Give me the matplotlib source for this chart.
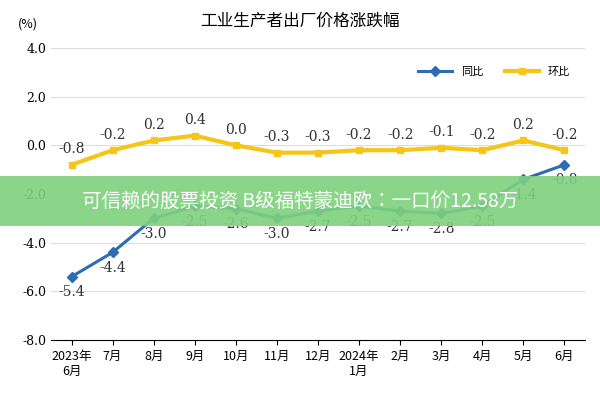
import matplotlib.pyplot as plt

plt.rcParams['font.family'] = ['Noto Sans CJK SC', 'Noto Sans CJK JP', 'Noto Sans CJK TC', 'DejaVu Sans']

months = ["2023年\n6月", "7月", "8月", "9月", "10月", "11月", "12月", "2024年\n1月",
          "2月", "3月", "4月", "5月", "6月"]
yoy = [-5.4, -4.4, -3.0, -2.5, -2.6, -3.0, -2.7, -2.5, -2.7, -2.8, -2.5, -1.4, -0.8]
mom = [-0.8, -0.2, 0.2, 0.4, 0.0, -0.3, -0.3, -0.2, -0.2, -0.1, -0.2, 0.2, -0.2]

fig = plt.figure(figsize=(6, 4), dpi=100)
ax = fig.add_axes([0.085, 0.15, 0.89, 0.73])
x = range(len(months))
ax.plot(x, yoy, color='#2e6bb5', lw=2.2, marker='D', ms=5, label='同比')
ax.plot(x, mom, color='#f5c518', lw=3, marker='s', ms=5, label='环比')

for i, v in enumerate(yoy):
    ax.text(i, v - 0.35, f"{v:.1f}", ha='center', va='top',
            fontsize=10, family='serif', color='#333333')
for i, v in enumerate(mom):
    ax.text(i, v + 0.35, f"{v:.1f}", ha='center', va='bottom',
            fontsize=10, family='serif', color='#333333')

ax.set_ylim(-8, 4)
ax.set_xlim(-0.5, len(months) - 0.5)
ax.set_yticks(range(-8, 5, 2))
ax.set_yticklabels([f"{t:.1f}" for t in range(-8, 5, 2)], family='serif', fontsize=9)
ax.set_xticks(list(x))
ax.set_xticklabels(months, fontsize=9)
ax.grid(axis='y', color='#dddddd', lw=0.8)
for s in ['top', 'right', 'left']:
    ax.spines[s].set_visible(False)
ax.tick_params(axis='y', length=0)
ax.legend(loc='upper right', ncol=2, frameon=False, fontsize=8,
          bbox_to_anchor=(0.99, 0.97), handlelength=3)

fig.text(0.03, 0.93, "(%)", fontsize=9)
fig.text(0.5, 0.935, "工业生产者出厂价格涨跌幅", ha='center', fontsize=12)

# green banner across the full width
fig.patches.append(plt.Rectangle((0, 0.435), 1, 0.125, transform=fig.transFigure,
                                 fc='#7fd17f', ec='none', alpha=0.9, zorder=5))
fig.text(0.5, 0.497, "可信赖的股票投资 B级福特蒙迪欧：一口价12.58万", ha='center', va='center',
         fontsize=14, color='white', zorder=6)

fig.savefig('out.png')
